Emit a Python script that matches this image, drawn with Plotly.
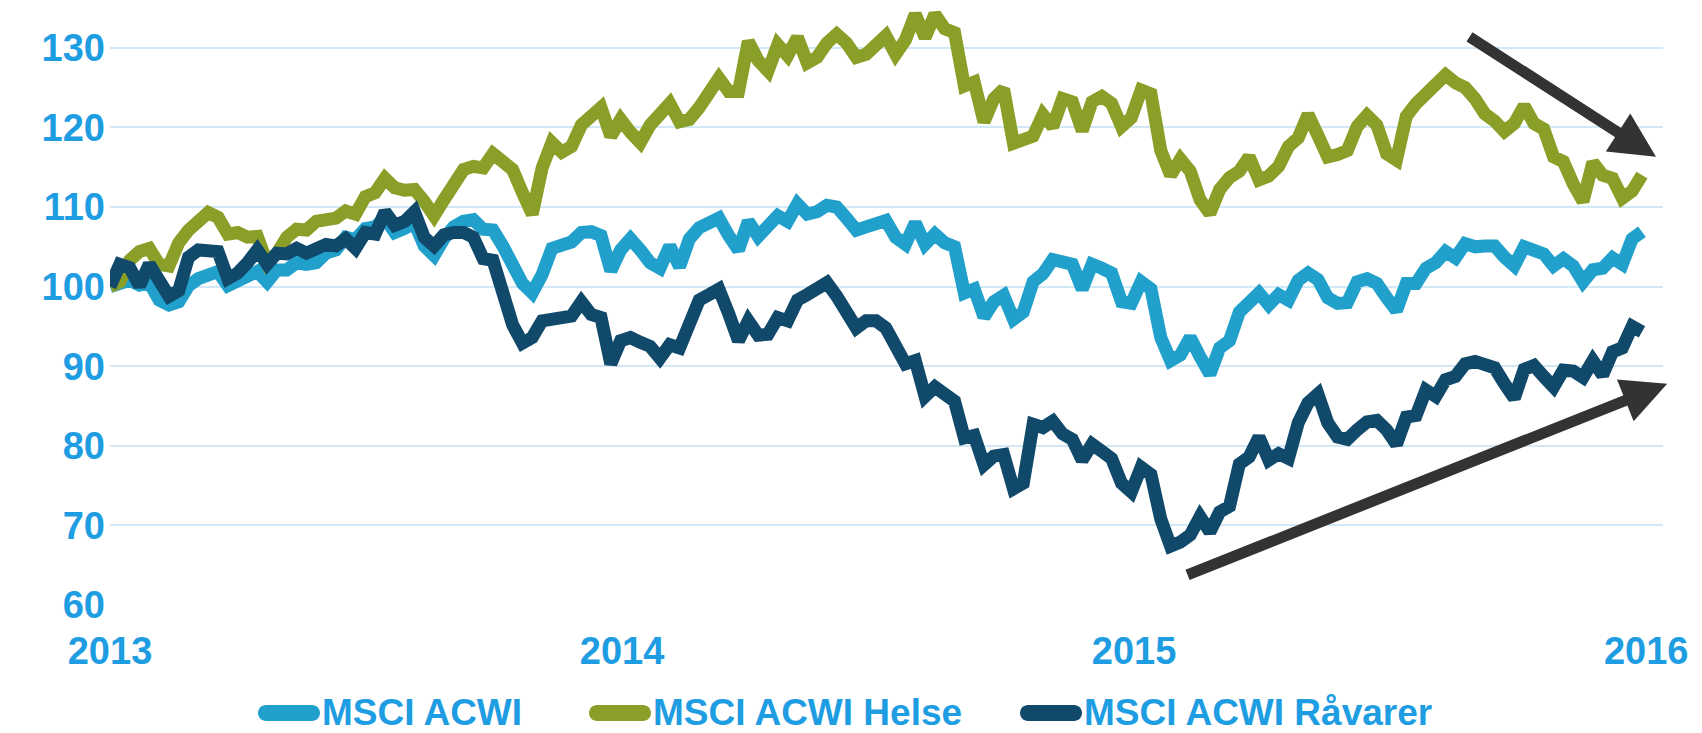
import pandas as pd
import plotly.graph_objects as go

# Weekly index values (start = 100)
dates = pd.date_range("2013-01-01", periods=157, freq="7D")

acwi = [100, 100.5, 100.8, 100.2, 100.5, 98.3, 97.7, 98.1, 100.1, 101.0,
        101.5, 101.9, 100.1, 100.6, 101.5, 101.9, 100.6, 102.1, 102.1, 103.0,
        102.8, 103.0, 104.2, 104.6, 106.2, 105.9, 107.3, 107.5, 108.6, 106.8,
        107.3, 108.0, 105.1, 103.9, 106.0, 107.5, 108.2, 108.4, 107.2, 107.1,
        105.1, 102.6, 100.4, 99.2, 101.5, 104.8, 105.1, 105.6, 106.8, 106.9,
        106.4, 102.0, 104.6, 106.0, 104.6, 103.0, 102.3, 105.1, 102.5, 106.0,
        107.4, 108.2, 108.6, 106.4, 104.6, 108.2, 106.3, 107.6, 108.9, 108.2,
        110.4, 109.1, 109.4, 110.2, 110.0, 108.6, 107.1, 107.5, 107.7, 108.3,
        106.2, 105.3, 108.0, 105.3, 106.6, 105.5, 105.0, 99.2, 99.7, 96.2,
        98.1, 98.9, 95.9, 96.8, 100.6, 101.6, 103.4, 103.3, 102.8, 99.7,
        102.8, 102.3, 101.7, 98.1, 97.9, 100.6, 99.7, 93.6, 90.7, 91.4,
        93.6, 91.2, 89.0, 92.3, 93.2, 96.8, 97.9, 99.2, 97.7, 99.0,
        98.3, 100.8, 101.7, 100.9, 98.6, 97.9, 98.0, 100.6, 101.0, 100.4,
        98.6, 97.0, 100.4, 100.4, 102.3, 103.0, 104.4, 103.6, 105.4, 105.0,
        105.1, 105.1, 103.7, 102.6, 105.0, 104.6, 104.1, 102.6, 103.5, 102.6,
        100.6, 102.1, 102.3, 103.6, 102.8, 106.0, 106.9]

helse = [100, 100.6, 103.3, 104.4, 104.8, 102.8, 102.6, 105.5, 107.1, 108.2,
         109.3, 108.7, 106.6, 106.8, 106.2, 106.3, 103.0, 104.2, 106.2, 107.2,
         107.1, 108.2, 108.5, 108.6, 109.5, 109.1, 111.3, 111.8, 113.6, 112.4,
         112.1, 112.2, 110.7, 108.9, 110.9, 112.9, 114.7, 115.1, 114.9, 116.7,
         115.6, 114.7, 111.8, 109.1, 114.9, 118.1, 116.9, 117.6, 120.3, 121.6,
         122.5, 118.9, 121.0, 119.4, 118.1, 120.3, 121.6, 123.0, 120.7, 121.0,
         122.5, 124.5, 126.2, 124.5, 124.5, 130.8, 128.4, 127.1, 130.4, 129.0,
         131.3, 128.1, 128.8, 130.6, 131.7, 130.6, 128.8, 129.2, 130.6, 131.5,
         129.2, 131.0, 134.2, 131.3, 134.2, 132.4, 131.9, 125.2, 125.7, 120.7,
         123.6, 124.8, 118.0, 118.6, 118.9, 121.6, 120.1, 123.6, 123.2, 119.6,
         123.2, 123.9, 123.0, 120.1, 121.2, 124.7, 124.2, 117.1, 114.0, 116.0,
         114.5, 110.9, 109.2, 112.2, 113.7, 114.5, 116.3, 113.4, 113.9, 115.1,
         117.6, 118.7, 121.6, 119.0, 116.3, 116.6, 117.1, 120.1, 121.5, 120.3,
         116.7, 115.9, 121.4, 123.0, 124.1, 125.1, 126.6, 125.6, 125.0, 123.6,
         121.7, 120.8, 119.5, 120.5, 122.7, 120.5, 119.8, 116.3, 115.7, 112.9,
         110.7, 115.6, 114.0, 113.6, 111.1, 112.0, 114.0]

ravarer = [100, 102.8, 102.4, 100.1, 102.8, 100.6, 98.8, 99.5, 103.7, 104.6,
           104.6, 104.4, 101.0, 101.7, 103.0, 104.6, 102.8, 104.2, 104.1, 104.8,
           104.2, 104.8, 105.3, 105.1, 106.0, 104.8, 106.8, 106.6, 109.4, 107.7,
           108.2, 109.4, 106.2, 105.1, 106.5, 106.8, 106.8, 106.2, 103.5, 103.3,
           99.7, 95.2, 92.9, 93.6, 95.7, 96.0, 96.0, 96.3, 98.1, 96.5,
           96.1, 90.3, 93.2, 93.6, 93.0, 92.5, 91.0, 92.7, 92.3, 95.7,
           98.3, 99.0, 99.7, 96.6, 93.2, 95.7, 93.9, 94.0, 96.1, 95.7,
           98.3, 99.0, 99.7, 100.5, 98.8, 96.8, 94.8, 95.7, 95.7, 94.8,
           92.3, 90.3, 90.7, 86.2, 87.4, 86.7, 85.6, 81.0, 81.3, 77.6,
           78.7, 78.9, 74.6, 75.3, 82.7, 82.3, 83.1, 81.5, 80.8, 78.2,
           80.2, 79.3, 78.4, 75.3, 74.2, 77.3, 76.4, 70.8, 67.4, 67.9,
           68.8, 71.1, 69.2, 71.7, 72.4, 77.7, 78.6, 81.1, 78.2, 79.0,
           78.4, 82.9, 85.4, 86.5, 82.9, 81.1, 80.8, 82.0, 83.0, 83.2,
           82.0, 80.2, 83.6, 83.8, 87.0, 86.2, 88.3, 88.7, 90.3, 90.6,
           90.3, 89.8, 87.8, 86.0, 89.6, 90.1, 88.7, 87.4, 89.5, 89.4,
           88.6, 90.7, 88.9, 91.8, 92.3, 95.0, 94.3]

series_names = ["MSCI ACWI", "MSCI ACWI Helse", "MSCI ACWI Råvarer"]
series_values = [acwi, helse, ravarer]
series_colors = ["#21A0CC", "#8A9F27", "#11496B"]

y_ticks = [60, 70, 80, 90, 100, 110, 120, 130]
x_ticks = ["2013-01-01", "2014-01-01", "2015-01-01", "2016-01-01"]
x_tick_labels = ["2013", "2014", "2015", "2016"]

label_color = "#1E9DE2"
font_family = "Liberation Sans, Arial, sans-serif"

# page body adds an 8px offset, so the figure is 8px smaller than the window
W, H = 1694, 725
M_L, M_R, M_T, M_B = 102, 39, 0, 128
plot_w = W - M_L - M_R
plot_h = H - M_T - M_B

fig = go.Figure()
for name, vals, col in zip(series_names, series_values, series_colors):
    fig.add_trace(go.Scatter(
        x=dates, y=vals, name=name, mode="lines",
        line=dict(color=col, width=13), showlegend=False,
    ))

# trend arrows
arrow_style = dict(showarrow=True, arrowhead=2, arrowsize=0.82, arrowwidth=11,
                   arrowcolor="#333333", axref="x", ayref="y", xref="x",
                   yref="y", text="", standoff=0)
fig.add_annotation(x="2016-01-08", y=116.3, ax="2015-08-27", ay=131.5, **arrow_style)
fig.add_annotation(x="2016-01-16", y=87.8, ax="2015-02-07", ay=63.7, **arrow_style)

# custom legend (pill-shaped symbols + bold labels), placed below the axis
legend_px_x = [250, 581, 1012]   # left edge of each symbol, in figure pixels
legend_px_y = 705                # vertical centre of legend row
pill_len, pill_r = 62, 8
c = 0.552 * pill_r
L, r = pill_len, pill_r
pill_path = (f"M{r},{-r} L{L - r},{-r} C{L - r + c},{-r} {L},{-c} {L},0 "
             f"C{L},{c} {L - r + c},{r} {L - r},{r} L{r},{r} "
             f"C{r - c},{r} 0,{c} 0,0 C0,{-c} {r - c},{-r} {r},{-r} Z")
ly = (H - M_B - legend_px_y) / plot_h
for name, col, px in zip(series_names, series_colors, legend_px_x):
    ax_paper = (px - M_L) / plot_w
    fig.add_shape(type="path", xref="paper", yref="paper",
                  xsizemode="pixel", ysizemode="pixel",
                  xanchor=ax_paper, yanchor=ly, path=pill_path,
                  fillcolor=col, line=dict(width=0), layer="above")
    fig.add_annotation(x=(px + pill_len + 1 - M_L) / plot_w, y=ly,
                       xref="paper", yref="paper", xanchor="left",
                       yanchor="middle", showarrow=False, text=name,
                       font=dict(size=37, color=label_color,
                                 family=font_family, weight="bold"),
                       borderpad=0)

fig.update_layout(
    width=W, height=H,
    margin=dict(l=M_L, r=M_R, t=M_T, b=M_B, autoexpand=False),
    paper_bgcolor="white", plot_bgcolor="white",
    font=dict(family=font_family, color=label_color, size=38, weight="bold"),
    showlegend=False,
)
fig.update_xaxes(
    range=["2013-01-01", "2016-01-13"],
    tickvals=x_ticks, ticktext=x_tick_labels,
    showgrid=False, showline=False, zeroline=False, ticks="",
    tickfont=dict(size=38, color=label_color, family=font_family, weight="bold"),
    ticklabelstandoff=20,
)
fig.update_yaxes(
    range=[60, 135], tickvals=y_ticks,
    showgrid=True, gridcolor="#D3E8F6", gridwidth=2,
    showline=False, zeroline=False, ticks="",
    tickfont=dict(size=38, color=label_color, family=font_family, weight="bold"),
    ticklabelstandoff=4,
)

fig.write_html("out.html")
